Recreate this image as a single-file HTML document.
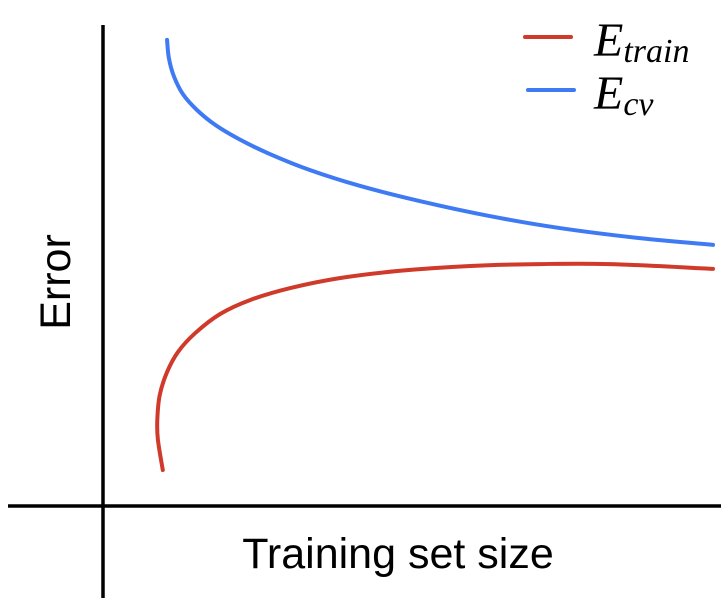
<!DOCTYPE html>
<html><head><meta charset="utf-8"><style>
html,body{margin:0;padding:0;background:#fff;width:728px;height:600px;overflow:hidden}
</style></head><body>
<svg id="chart" width="728" height="600" viewBox="0 0 728 600" xmlns="http://www.w3.org/2000/svg">
<line x1="103" y1="25" x2="103" y2="598" stroke="#000" stroke-width="3.5"/>
<line x1="8" y1="506" x2="721" y2="506" stroke="#000" stroke-width="3.5"/>
<text x="398" y="568" text-anchor="middle" font-family="Liberation Sans, sans-serif" font-size="43">Training set size</text>
<text transform="translate(70,282) rotate(-90)" text-anchor="middle" font-family="Liberation Sans, sans-serif" font-size="43">Error</text>
<g id="series"></g>
<g>
<line x1="525" y1="37" x2="571" y2="37" stroke="#d03a2a" stroke-width="4" stroke-linecap="round"/>
<line x1="528" y1="90" x2="574" y2="90" stroke="#3f7af5" stroke-width="4" stroke-linecap="round"/>
<text x="594" y="56" font-family="Liberation Serif, serif" font-style="italic" font-size="48">E<tspan font-size="34" dy="6">train</tspan></text>
<text x="594" y="109" font-family="Liberation Serif, serif" font-style="italic" font-size="48">E<tspan font-size="34" dy="6">cv</tspan></text>
</g>
</svg>
<script>
const trainX = [0.98,0.90,0.89,0.93,1.05,1.23,1.51,1.92,2.41,3.07,3.89,4.87,6.02,7.16,8.31,10];
const trainY = [0.75,1.38,1.79,2.31,2.79,3.21,3.60,4.00,4.29,4.54,4.75,4.90,5.00,5.04,5.04,4.94];
const cvX = [1.05,1.08,1.16,1.31,1.54,1.84,2.25,2.74,3.39,4.21,5.20,6.34,7.49,8.80,10];
const cvY = [9.71,9.33,8.96,8.58,8.25,7.94,7.63,7.33,7.00,6.67,6.35,6.04,5.79,5.58,5.44];

function xs(v){return 103+v*61;}
function ys(v){return 506-v*48;}
function pathFrom(X,Y){
  const p=X.map((x,i)=>[xs(x),ys(Y[i])]);
  let d='M'+p[0][0]+','+p[0][1];
  for(let i=0;i<p.length-1;i++){
    const p0=p[i-1]||p[i],p1=p[i],p2=p[i+1],p3=p[i+2]||p2;
    const c1=[p1[0]+(p2[0]-p0[0])/6,p1[1]+(p2[1]-p0[1])/6];
    const c2=[p2[0]-(p3[0]-p1[0])/6,p2[1]-(p3[1]-p1[1])/6];
    d+=' C'+c1+' '+c2+' '+p2;
  }
  return d;
}
const g=document.getElementById('series');
const NS='http://www.w3.org/2000/svg';
const red=document.createElementNS(NS,'path');


red.setAttribute('d',pathFrom(trainX,trainY));
red.setAttribute('fill','none');red.setAttribute('stroke','#d03a2a');red.setAttribute('stroke-width','4');red.setAttribute('stroke-linecap','round');
g.appendChild(red);
const blue=document.createElementNS(NS,'path');


blue.setAttribute('d',pathFrom(cvX,cvY));
blue.setAttribute('fill','none');blue.setAttribute('stroke','#3f7af5');blue.setAttribute('stroke-width','4');blue.setAttribute('stroke-linecap','round');
g.appendChild(blue);
</script>
</body></html>
